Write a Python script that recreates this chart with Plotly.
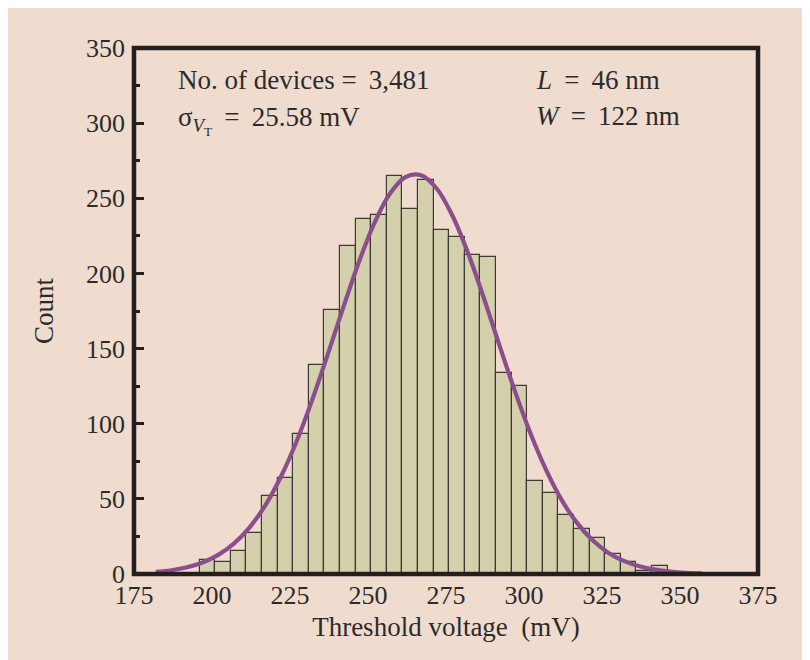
import plotly.graph_objects as go

# ---- data ----
bin_centers = [198.5, 203.5, 208.5, 213.5, 218.5, 223.5, 228.5, 233.5, 238.5, 243.5,
               248.5, 253.5, 258.5, 263.5, 268.5, 273.5, 278.5, 283.5, 288.5, 293.5,
               298.5, 303.5, 308.5, 313.5, 318.5, 323.5, 328.5, 333.5, 338.5, 343.5]
counts = [9, 8, 15, 27, 52, 64, 93, 139, 176, 218,
          236, 239, 265, 243, 262, 229, 224, 212, 211, 134,
          125, 62, 54, 39, 30, 24, 13, 8, 2, 5]

fit_x = [182, 187, 192, 197, 202, 207, 212, 217, 222, 227, 232, 237, 242, 247, 252, 257,
         262, 267, 272, 277, 282, 287, 292, 297, 302, 307, 312, 317, 322, 327, 332, 337,
         342, 347, 352, 357]
fit_y = [1.4, 2.5, 4.5, 7.7, 12.7, 20.2, 30.9, 45.4, 64.4, 87.7, 115.2, 145.5, 176.9, 207.1,
         233.3, 253.0, 264.1, 265.3, 256.5, 238.7, 213.9, 184.4, 153.0, 122.2, 94.0, 69.6,
         49.5, 34.0, 22.4, 14.2, 8.7, 5.1, 2.9, 1.6, 0.8, 0.4]

x_ticks = [175, 200, 225, 250, 275, 300, 325, 350, 375]
y_ticks = [0, 50, 100, 150, 200, 250, 300, 350]

BG = "#F0DBCF"
INK = "#231F20"
TXT = "#2B2B2B"
FONT = "Liberation Serif"
TS = "\u2009"  # thin space for math-style spacing around "="

fig = go.Figure()
fig.add_trace(go.Bar(
    x=bin_centers, y=counts, width=5,
    marker=dict(color="#D4D0AB", line=dict(color="#3C3A36", width=1.2)),
    showlegend=False,
))
fig.add_trace(go.Scatter(
    x=fit_x, y=fit_y, mode="lines",
    line=dict(color="#8B4E8D", width=4.2, shape="spline"),
    showlegend=False,
))

ann_font = dict(family=FONT, size=27, color=TXT)
fig.update_layout(
    width=810, height=660,
    paper_bgcolor=BG, plot_bgcolor=BG,
    margin=dict(l=126, r=60, t=40, b=94, autoexpand=False),
    font=dict(family=FONT, size=26, color=TXT),
    bargap=0,
    shapes=[dict(type="rect", xref="paper", yref="paper", x0=0, x1=1, y0=0, y1=1,
                 line=dict(color=INK, width=4.5), layer="above")],
    annotations=[
        dict(text="No. of devices =" + TS + " 3,481", x=188.3, y=328.6, xref="x", yref="y",
             xanchor="left", yanchor="middle", showarrow=False, font=ann_font),
        dict(text="σ<sub><i>V</i><sub>T</sub></sub>" + TS + " =" + TS + " 25.58 mV",
             x=188.3, y=302, xref="x", yref="y",
             xanchor="left", yanchor="middle", showarrow=False, font=ann_font),
        dict(text="<i>L</i>" + TS + " =" + TS + " 46 nm", x=303.3, y=328.6, xref="x", yref="y",
             xanchor="left", yanchor="middle", showarrow=False, font=ann_font),
        dict(text="<i>W</i>" + TS + " =" + TS + " 122 nm", x=303.3, y=304.7, xref="x", yref="y",
             xanchor="left", yanchor="middle", showarrow=False, font=ann_font),
    ],
)

fig.update_xaxes(
    range=[175, 375], tickvals=x_ticks, ticks="", showline=False, showgrid=False,
    zeroline=False, tickfont=dict(family=FONT, size=26, color=TXT), ticklabelstandoff=3,
    title=dict(text="Threshold voltage  (mV)", standoff=8,
               font=dict(family=FONT, size=27, color=TXT)),
    automargin=False,
)
fig.update_yaxes(
    range=[0, 350], tickvals=y_ticks, ticks="inside", ticklen=10, tickwidth=3,
    tickcolor=INK, showline=False, showgrid=False, zeroline=False,
    tickfont=dict(family=FONT, size=26, color=TXT), ticklabelstandoff=8,
    minor=dict(dtick=25, ticks="inside", ticklen=6, tickwidth=3, tickcolor=INK, showgrid=False),
    title=dict(text="Count", standoff=24, font=dict(family=FONT, size=27, color=TXT)),
    automargin=False,
)

fig.write_html("out.html")
